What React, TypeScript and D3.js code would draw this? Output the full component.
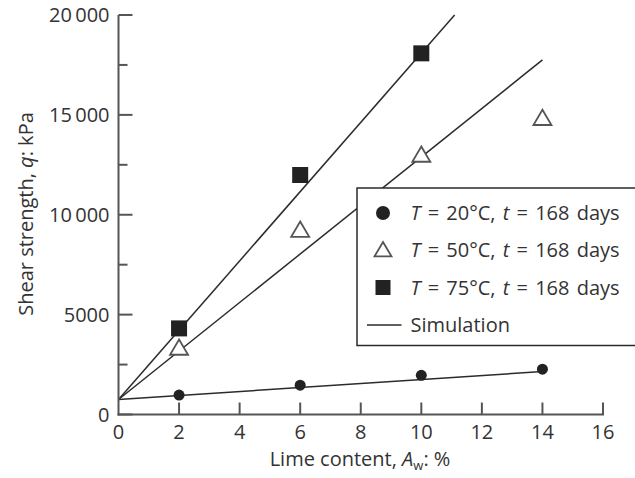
import * as d3 from "d3";

// lime content (%) for the measured points
const limeContent = [2, 6, 10, 14];
const limeContent75 = [2, 6, 10];

// shear strength q (kPa)
const strength20 = [970, 1470, 1960, 2270];
const strength50 = [3330, 9230, 12990, 14830];
const strength75 = [4310, 11990, 18080];

// simulation lines: [lime content, q]
const sim20 = [[0, 750], [14, 2150]];
const sim50 = [[0, 750], [14, 17750]];
const sim75 = [[0, 750], [11.1, 20000]];

const xTicks = [0, 2, 4, 6, 8, 10, 12, 14, 16];
const yTicks = [0, 5000, 10000, 15000, 20000];
const yMinorTicks = [2500, 7500, 12500, 17500];

const legendLabels = ["20°C", "50°C", "75°C"];

const width = 635;
const height = 478;
const font = "'Open Sans', 'DejaVu Sans', sans-serif";
const ink = "#2b2b2b";
const axisColor = "#555";

const fmtY = (d: number) =>
  d >= 10000 ? `${Math.floor(d / 1000)}\u2009${String(d % 1000).padStart(3, "0")}` : String(d);

const Triangle = ({ cx, cy, s = 9 }: { cx: number; cy: number; s?: number }) => (
  <path
    d={`M${cx},${cy - s * 0.95} L${cx + s},${cy + s * 0.75} L${cx - s},${cy + s * 0.75} Z`}
    fill="white"
    stroke="#555"
    strokeWidth={1.8}
  />
);

const Square = ({ cx, cy, s = 8 }: { cx: number; cy: number; s?: number }) => (
  <rect x={cx - s} y={cy - s} width={s * 2} height={s * 2} fill="#222" />
);

const App = () => {
  const x = d3.scaleLinear().domain([0, 16]).range([118.5, 603]);
  const y = d3.scaleLinear().domain([0, 20000]).range([414.5, 15]);

  const line = d3
    .line<number[]>()
    .x((d) => x(d[0]))
    .y((d) => y(d[1]));

  const legendX = 357;
  const legendTop = 188;
  const rowY = [213, 250, 287.5, 325];

  return (
    <svg
      width={width}
      height={height}
      style={{ position: "absolute", left: 0, top: 0, background: "white" }}
      fontFamily={font}
    >
      {/* simulation lines */}
      <g fill="none" stroke={ink} strokeWidth={1.5}>
        {[sim20, sim50, sim75].map((s, i) => (
          <path key={i} d={line(s) || ""} />
        ))}
      </g>

      {/* axes */}
      <g stroke={axisColor} strokeWidth={2} fill="none">
        <line x1={x(0)} x2={x(0)} y1={y(20000)} y2={y(0) + 1} />
        <line x1={x(0) - 1} x2={x(16) + 1} y1={y(0)} y2={y(0)} />
        {yTicks.map((t) => (
          <line key={t} x1={x(0)} x2={x(0) + 14} y1={y(t)} y2={y(t)} />
        ))}
        {yMinorTicks.map((t) => (
          <line key={t} x1={x(0)} x2={x(0) + 9} y1={y(t)} y2={y(t)} />
        ))}
        {xTicks
          .filter((t) => t > 0)
          .map((t) => (
            <line key={t} x1={x(t)} x2={x(t)} y1={y(0)} y2={y(0) - 12} />
          ))}
      </g>

      <g fontSize={20} fill="#333">
        {yTicks.map((t) => (
          <text key={t} x={x(0) - 9} y={y(t)} dy="0.36em" textAnchor="end">
            {fmtY(t)}
          </text>
        ))}
        {xTicks.map((t) => (
          <text key={t} x={x(t)} y={439} textAnchor="middle">
            {t}
          </text>
        ))}
        <text x={360} y={466} textAnchor="middle">
          Lime content, <tspan fontStyle="italic">A</tspan>
          <tspan fontSize={13} dy={4}>w</tspan>
          <tspan dy={-4}>: %</tspan>
        </text>
        <text transform={`translate(33,214) rotate(-90)`} textAnchor="middle">
          Shear strength, <tspan fontStyle="italic">q</tspan>: kPa
        </text>
      </g>

      {/* measured points */}
      <g>
        {limeContent.map((c, i) => (
          <circle key={i} cx={x(c)} cy={y(strength20[i])} r={5.5} fill="#222" />
        ))}
        {limeContent.map((c, i) => (
          <Triangle key={i} cx={x(c)} cy={y(strength50[i])} />
        ))}
        {limeContent75.map((c, i) => (
          <Square key={i} cx={x(c)} cy={y(strength75[i])} />
        ))}
      </g>

      {/* legend */}
      <rect
        x={legendX}
        y={legendTop}
        width={width - legendX + 10}
        height={345.5 - legendTop}
        fill="white"
        stroke={ink}
        strokeWidth={1.5}
      />
      <circle cx={383} cy={rowY[0]} r={7} fill="#222" />
      <Triangle cx={383} cy={rowY[1]} s={8.5} />
      <Square cx={383} cy={rowY[2]} s={7.5} />
      <line x1={367} x2={401.5} y1={rowY[3]} y2={rowY[3]} stroke={ink} strokeWidth={1.5} />
      <g fontSize={20} fill="#333">
        {legendLabels.map((l, i) => (
          <text key={l} x={410.5} y={rowY[i]} dy="0.36em" xmlSpace="preserve" wordSpacing={2}>
            <tspan fontStyle="italic">T</tspan> = {l}, <tspan fontStyle="italic">t</tspan> = 168 days
          </text>
        ))}
        <text x={410.5} y={rowY[3]} dy="0.36em">
          Simulation
        </text>
      </g>
    </svg>
  );
};

export default App;
